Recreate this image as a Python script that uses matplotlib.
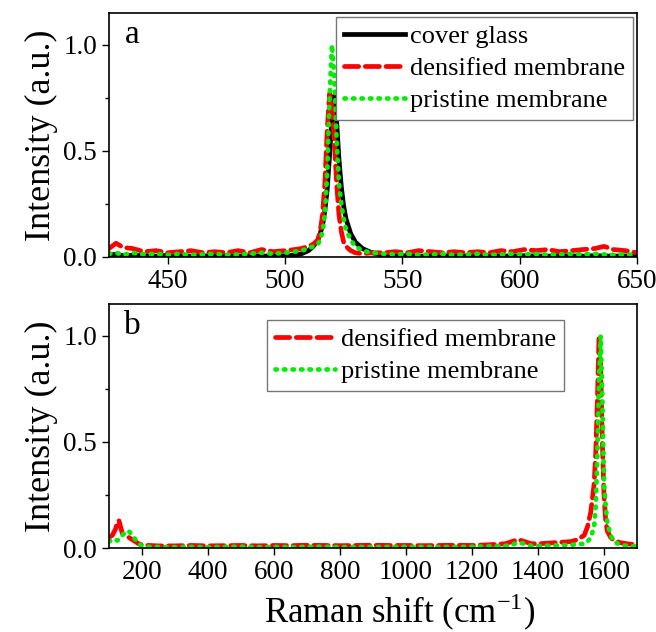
import numpy as np
import matplotlib
matplotlib.use("Agg")
import matplotlib.pyplot as plt
from matplotlib.ticker import MultipleLocator

# ---- panel a: Si peak region ----
x_a = [425, 428, 431, 435, 440, 445, 450, 455, 460, 465, 470, 475, 480, 485, 490, 495, 500,
       504, 507, 510, 512, 514,
       515, 516, 517, 518, 519, 520, 521, 522, 523, 524, 525, 526,
       528, 530, 533, 537,
       542, 547, 552, 557, 562, 567, 572, 577, 582, 587, 592, 597, 602, 607, 612, 617, 622, 627, 632,
       636, 640, 645, 650]

cover_glass = [0.010, 0.012, 0.006, 0.008, 0.006, 0.004, 0.008, 0.005, 0.004, 0.006, 0.004, 0.005, 0.004, 0.006, 0.005, 0.004, 0.006,
               0.008, 0.015, 0.030, 0.050, 0.080,
               0.110, 0.150, 0.220, 0.320, 0.480, 0.660, 0.760, 0.640, 0.460, 0.330, 0.240, 0.180,
               0.110, 0.070, 0.040, 0.020,
               0.008, 0.005, 0.006, 0.004, 0.005, 0.006, 0.004, 0.005, 0.004, 0.006, 0.005, 0.004, 0.006, 0.005, 0.004, 0.006, 0.005, 0.004, 0.006,
               0.005, 0.004, 0.005, 0.004]

densified_a = [0.040, 0.065, 0.045, 0.040, 0.025, 0.030, 0.020, 0.025, 0.030, 0.020, 0.025, 0.020, 0.030, 0.020, 0.035, 0.025, 0.030,
               0.035, 0.040, 0.050, 0.060, 0.080,
               0.120, 0.200, 0.350, 0.600, 0.770, 0.720, 0.550, 0.350, 0.200, 0.120, 0.070, 0.050,
               0.030, 0.020, 0.015, 0.020,
               0.020, 0.025, 0.020, 0.030, 0.025, 0.020, 0.025, 0.020, 0.025, 0.020, 0.030, 0.025, 0.035, 0.030, 0.035, 0.025, 0.030, 0.035, 0.040,
               0.050, 0.035, 0.030, 0.020]

pristine_a = [0.015, 0.020, 0.010, 0.020, 0.012, 0.015, 0.010, 0.015, 0.010, 0.012, 0.015, 0.010, 0.012, 0.015, 0.020, 0.015, 0.020,
              0.025, 0.030, 0.040, 0.050, 0.060,
              0.080, 0.120, 0.200, 0.400, 0.750, 1.000, 0.850, 0.550, 0.350, 0.250, 0.180, 0.130,
              0.080, 0.050, 0.030, 0.020,
              0.015, 0.012, 0.015, 0.010, 0.012, 0.015, 0.010, 0.012, 0.015, 0.010, 0.012, 0.015, 0.012, 0.015, 0.010, 0.012, 0.015, 0.012, 0.015,
              0.012, 0.010, 0.012, 0.010]

# ---- panel b: full spectrum ----
x_b = [100, 110, 120, 125, 130, 135, 140, 150, 160, 170, 180, 190, 200, 220, 250,
       300, 350, 400, 450, 500, 550, 600, 650, 700, 750, 800, 850, 900, 950, 1000, 1050, 1100, 1150, 1200, 1250, 1300,
       1320, 1340, 1360, 1380, 1400, 1450, 1500, 1520, 1540, 1550,
       1560, 1570, 1575, 1580, 1585, 1590, 1595, 1600, 1605, 1610,
       1620, 1630, 1650, 1670, 1700]

densified_b = [0.050, 0.060, 0.090, 0.120, 0.130, 0.100, 0.070, 0.060, 0.050, 0.040, 0.030, 0.020, 0.015, 0.012, 0.010,
               0.010, 0.012, 0.010, 0.011, 0.012, 0.010, 0.012, 0.011, 0.013, 0.012, 0.011, 0.012, 0.013, 0.012, 0.012, 0.011, 0.012, 0.013, 0.012, 0.015, 0.020,
               0.030, 0.040, 0.030, 0.020, 0.020, 0.025, 0.030, 0.040, 0.060, 0.100,
               0.170, 0.300, 0.450, 0.700, 1.000, 0.850, 0.500, 0.250, 0.130, 0.080,
               0.050, 0.035, 0.025, 0.020, 0.015]

pristine_b = [0.030, 0.040, 0.040, 0.035, 0.040, 0.050, 0.060, 0.075, 0.080, 0.060, 0.040, 0.020, 0.010, 0.006, 0.005,
              0.004, 0.005, 0.004, 0.005, 0.006, 0.004, 0.005, 0.004, 0.005, 0.006, 0.004, 0.005, 0.004, 0.005, 0.006, 0.005, 0.004, 0.005, 0.006, 0.008, 0.010,
              0.015, 0.025, 0.020, 0.010, 0.010, 0.012, 0.015, 0.018, 0.020, 0.030,
              0.050, 0.100, 0.200, 0.450, 0.800, 1.000, 0.700, 0.300, 0.200, 0.120,
              0.060, 0.030, 0.015, 0.010, 0.008]

plt.rcParams["font.family"] = "Liberation Serif"
plt.rcParams["mathtext.fontset"] = "stix"

fig = plt.figure(figsize=(6.56, 6.32), dpi=100)
W, H = 656.0, 632.0
ax_a = fig.add_axes([109 / W, 1 - 257 / H, 528 / W, 244 / H])
ax_b = fig.add_axes([109 / W, 1 - 548 / H, 528 / W, 244 / H])

lw = 3.4
red_style = dict(color="#ff0000", lw=lw, dashes=(3.0, 1.4), dash_capstyle="round")
green_style = dict(color="#00ee00", lw=lw, dashes=(0.3, 1.5), dash_capstyle="round")

ax_a.plot(x_a, cover_glass, color="black", lw=lw, label="cover glass")
ax_a.plot(x_a, densified_a, label="densified membrane", **red_style)
ax_a.plot(x_a, pristine_a, label="pristine membrane", **green_style)

ax_b.plot(x_b, densified_b, label="densified membrane", **red_style)
ax_b.plot(x_b, pristine_b, label="pristine membrane", **green_style)

ax_a.set_xlim(425, 650)
ax_a.xaxis.set_major_locator(MultipleLocator(50))
ax_b.set_xlim(100, 1700)
ax_b.set_xticks([200, 400, 600, 800, 1000, 1200, 1400, 1600])

for ax, tag in [(ax_a, "a"), (ax_b, "b")]:
    ax.set_ylim(0, 1.15)
    ax.yaxis.set_major_locator(MultipleLocator(0.5))
    ax.yaxis.set_minor_locator(MultipleLocator(0.25))
    ax.tick_params(axis="both", which="major", direction="out", length=5, width=1, labelsize=19.5)
    ax.tick_params(axis="y", which="minor", direction="out", length=3, width=1)
    ax.set_ylabel("Intensity (a.u.)", fontsize=26, labelpad=4)
    ax.text(0.044, 0.91, tag, transform=ax.transAxes, fontsize=24, ha="center", va="center")
    for sp in ax.spines.values():
        sp.set_linewidth(1.2)

ax_b.set_xlabel("Raman shift (cm$^{\\mathregular{-1}}$)", fontsize=25, labelpad=4)
ax_b.xaxis.set_label_coords(0.55, -0.175)

leg_kw = dict(fontsize=19, frameon=True, fancybox=False, edgecolor="#777777", framealpha=1,
              handlelength=2.3, handletextpad=0.2, labelspacing=0.32, borderpad=0.3, borderaxespad=0)
leg_a = ax_a.legend(loc="upper right", bbox_to_anchor=(1 - 4 / 528, 1 - 4 / 244), **leg_kw)
leg_b = ax_b.legend(loc="upper center", bbox_to_anchor=(0.58, 0.934), **leg_kw)
for leg in (leg_a, leg_b):
    leg.get_frame().set_linewidth(1.0)

fig.savefig("out.png", dpi=100)
